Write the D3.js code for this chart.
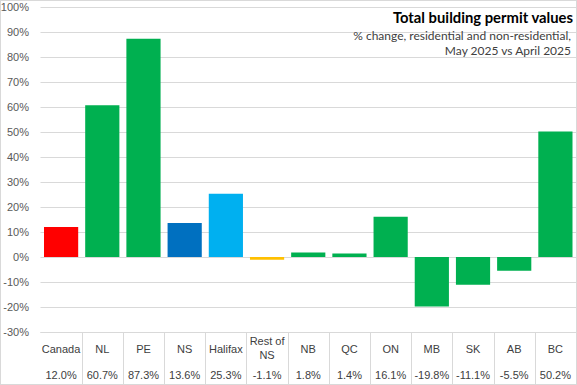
<!DOCTYPE html>
<html>
<head>
<meta charset="utf-8">
<script src="https://cdn.jsdelivr.net/npm/d3@7"></script>
<style>
  html, body { margin: 0; padding: 0; background: #fff; }
  svg { display: block; }
</style>
</head>
<body>
<svg id="chart" width="577" height="385"></svg>
<script>
const categories = ["Canada", "NL", "PE", "NS", "Halifax", "Rest of NS", "NB", "QC", "ON", "MB", "SK", "AB", "BC"];
const values = [12.0, 60.7, 87.3, 13.6, 25.3, -1.1, 1.8, 1.4, 16.1, -19.8, -11.1, -5.5, 50.2];
const valueLabels = ["12.0%", "60.7%", "87.3%", "13.6%", "25.3%", "-1.1%", "1.8%", "1.4%", "16.1%", "-19.8%", "-11.1%", "-5.5%", "50.2%"];
const barColors = ["#FF0000", "#00B050", "#00B050", "#0070C0", "#00B0F0", "#FFC000", "#00B050", "#00B050", "#00B050", "#00B050", "#00B050", "#00B050", "#00B050"];
const yTicks = [-30, -20, -10, 0, 10, 20, 30, 40, 50, 60, 70, 80, 90, 100];
const titleText = "Total building permit values";
const subtitleLines = ["% change, residential and non-residential,", "May 2025 vs April 2025"];

(function () {
const W = 577, H = 385;
const pLeft = 40.5, pRight = 576, pTop = 7, pBottom = 332, tableBottom = 384;
const svg = d3.select("#chart");

// outer border
svg.append("rect").attr("x", 0.5).attr("y", 0.5).attr("width", W - 1).attr("height", H - 1)
  .attr("fill", "#fff").attr("stroke", "#d9d9d9");

const x = d3.scaleBand().domain(categories).range([pLeft, pRight]).paddingInner(0.17).paddingOuter(0.085);
const y = d3.scaleLinear().domain([-30, 100]).range([pBottom, pTop]);

// gridlines
svg.append("g").selectAll("line").data(yTicks).join("line")
  .attr("x1", pLeft).attr("x2", pRight)
  .attr("y1", d => Math.round(y(d)) + 0.5).attr("y2", d => Math.round(y(d)) + 0.5)
  .attr("stroke", "#d9d9d9").attr("stroke-width", 1);

// y axis labels
const yAxis = d3.axisLeft(y).tickValues(yTicks).tickFormat(d => d + "%").tickSize(0).tickPadding(0);
const ya = svg.append("g").attr("transform", "translate(29,0)").call(yAxis);
ya.select(".domain").remove();
ya.selectAll("text").attr("font-family", "'Liberation Sans', Arial, sans-serif")
  .attr("font-size", 11).attr("fill", "#595959");

// bars
svg.append("g").selectAll("rect").data(categories).join("rect")
  .attr("x", d => x(d))
  .attr("width", x.bandwidth())
  .attr("y", (d, i) => y(Math.max(0, values[i])))
  .attr("height", (d, i) => Math.abs(y(values[i]) - y(0)))
  .attr("fill", (d, i) => barColors[i]);

// data table
const step = x.step();
const tg = svg.append("g");
tg.append("line").attr("x1", pLeft).attr("x2", pRight).attr("y1", pBottom + 0.5).attr("y2", pBottom + 0.5)
  .attr("stroke", "#d9d9d9");
tg.selectAll("line.v").data(d3.range(1, categories.length + 1)).join("line").attr("class", "v")
  .attr("x1", i => Math.round(pLeft + i * step) + 0.5).attr("x2", i => Math.round(pLeft + i * step) + 0.5)
  .attr("y1", pBottom).attr("y2", tableBottom)
  .attr("stroke", "#d9d9d9");

const cat = tg.selectAll("text.cat").data(categories).join("text").attr("class", "cat")
  .attr("x", d => x(d) + x.bandwidth() / 2)
  .attr("text-anchor", "middle")
  .attr("font-family", "'Liberation Sans', Arial, sans-serif")
  .attr("font-size", 11).attr("fill", "#404040");
cat.each(function(d) {
  const t = d3.select(this);
  if (d === "Rest of NS") {
    t.append("tspan").attr("x", x(d) + x.bandwidth() / 2).attr("y", 345).text("Rest of");
    t.append("tspan").attr("x", x(d) + x.bandwidth() / 2).attr("y", 359).text("NS");
  } else {
    t.attr("y", 353).text(d);
  }
});

tg.selectAll("text.val").data(valueLabels).join("text").attr("class", "val")
  .attr("x", (d, i) => x(categories[i]) + x.bandwidth() / 2)
  .attr("y", 378.5)
  .attr("text-anchor", "middle")
  .attr("font-family", "'Liberation Sans', Arial, sans-serif")
  .attr("font-size", 11).attr("fill", "#404040")
  .text(d => d);

// title
svg.append("text").attr("x", 573).attr("y", 23).attr("text-anchor", "end")
  .attr("font-family", "Lato, 'Noto Sans', sans-serif").attr("font-weight", "bold")
  .attr("font-size", 14.8).attr("fill", "#000").text(titleText);
svg.append("g").selectAll("text").data(subtitleLines).join("text")
  .attr("x", 571).attr("y", (d, i) => 40 + i * 15).attr("text-anchor", "end")
  .attr("font-family", "Lato, 'Noto Sans', sans-serif")
  .attr("font-size", 12).attr("fill", "#404040").text(d => d);
})();
</script>
</body>
</html>
